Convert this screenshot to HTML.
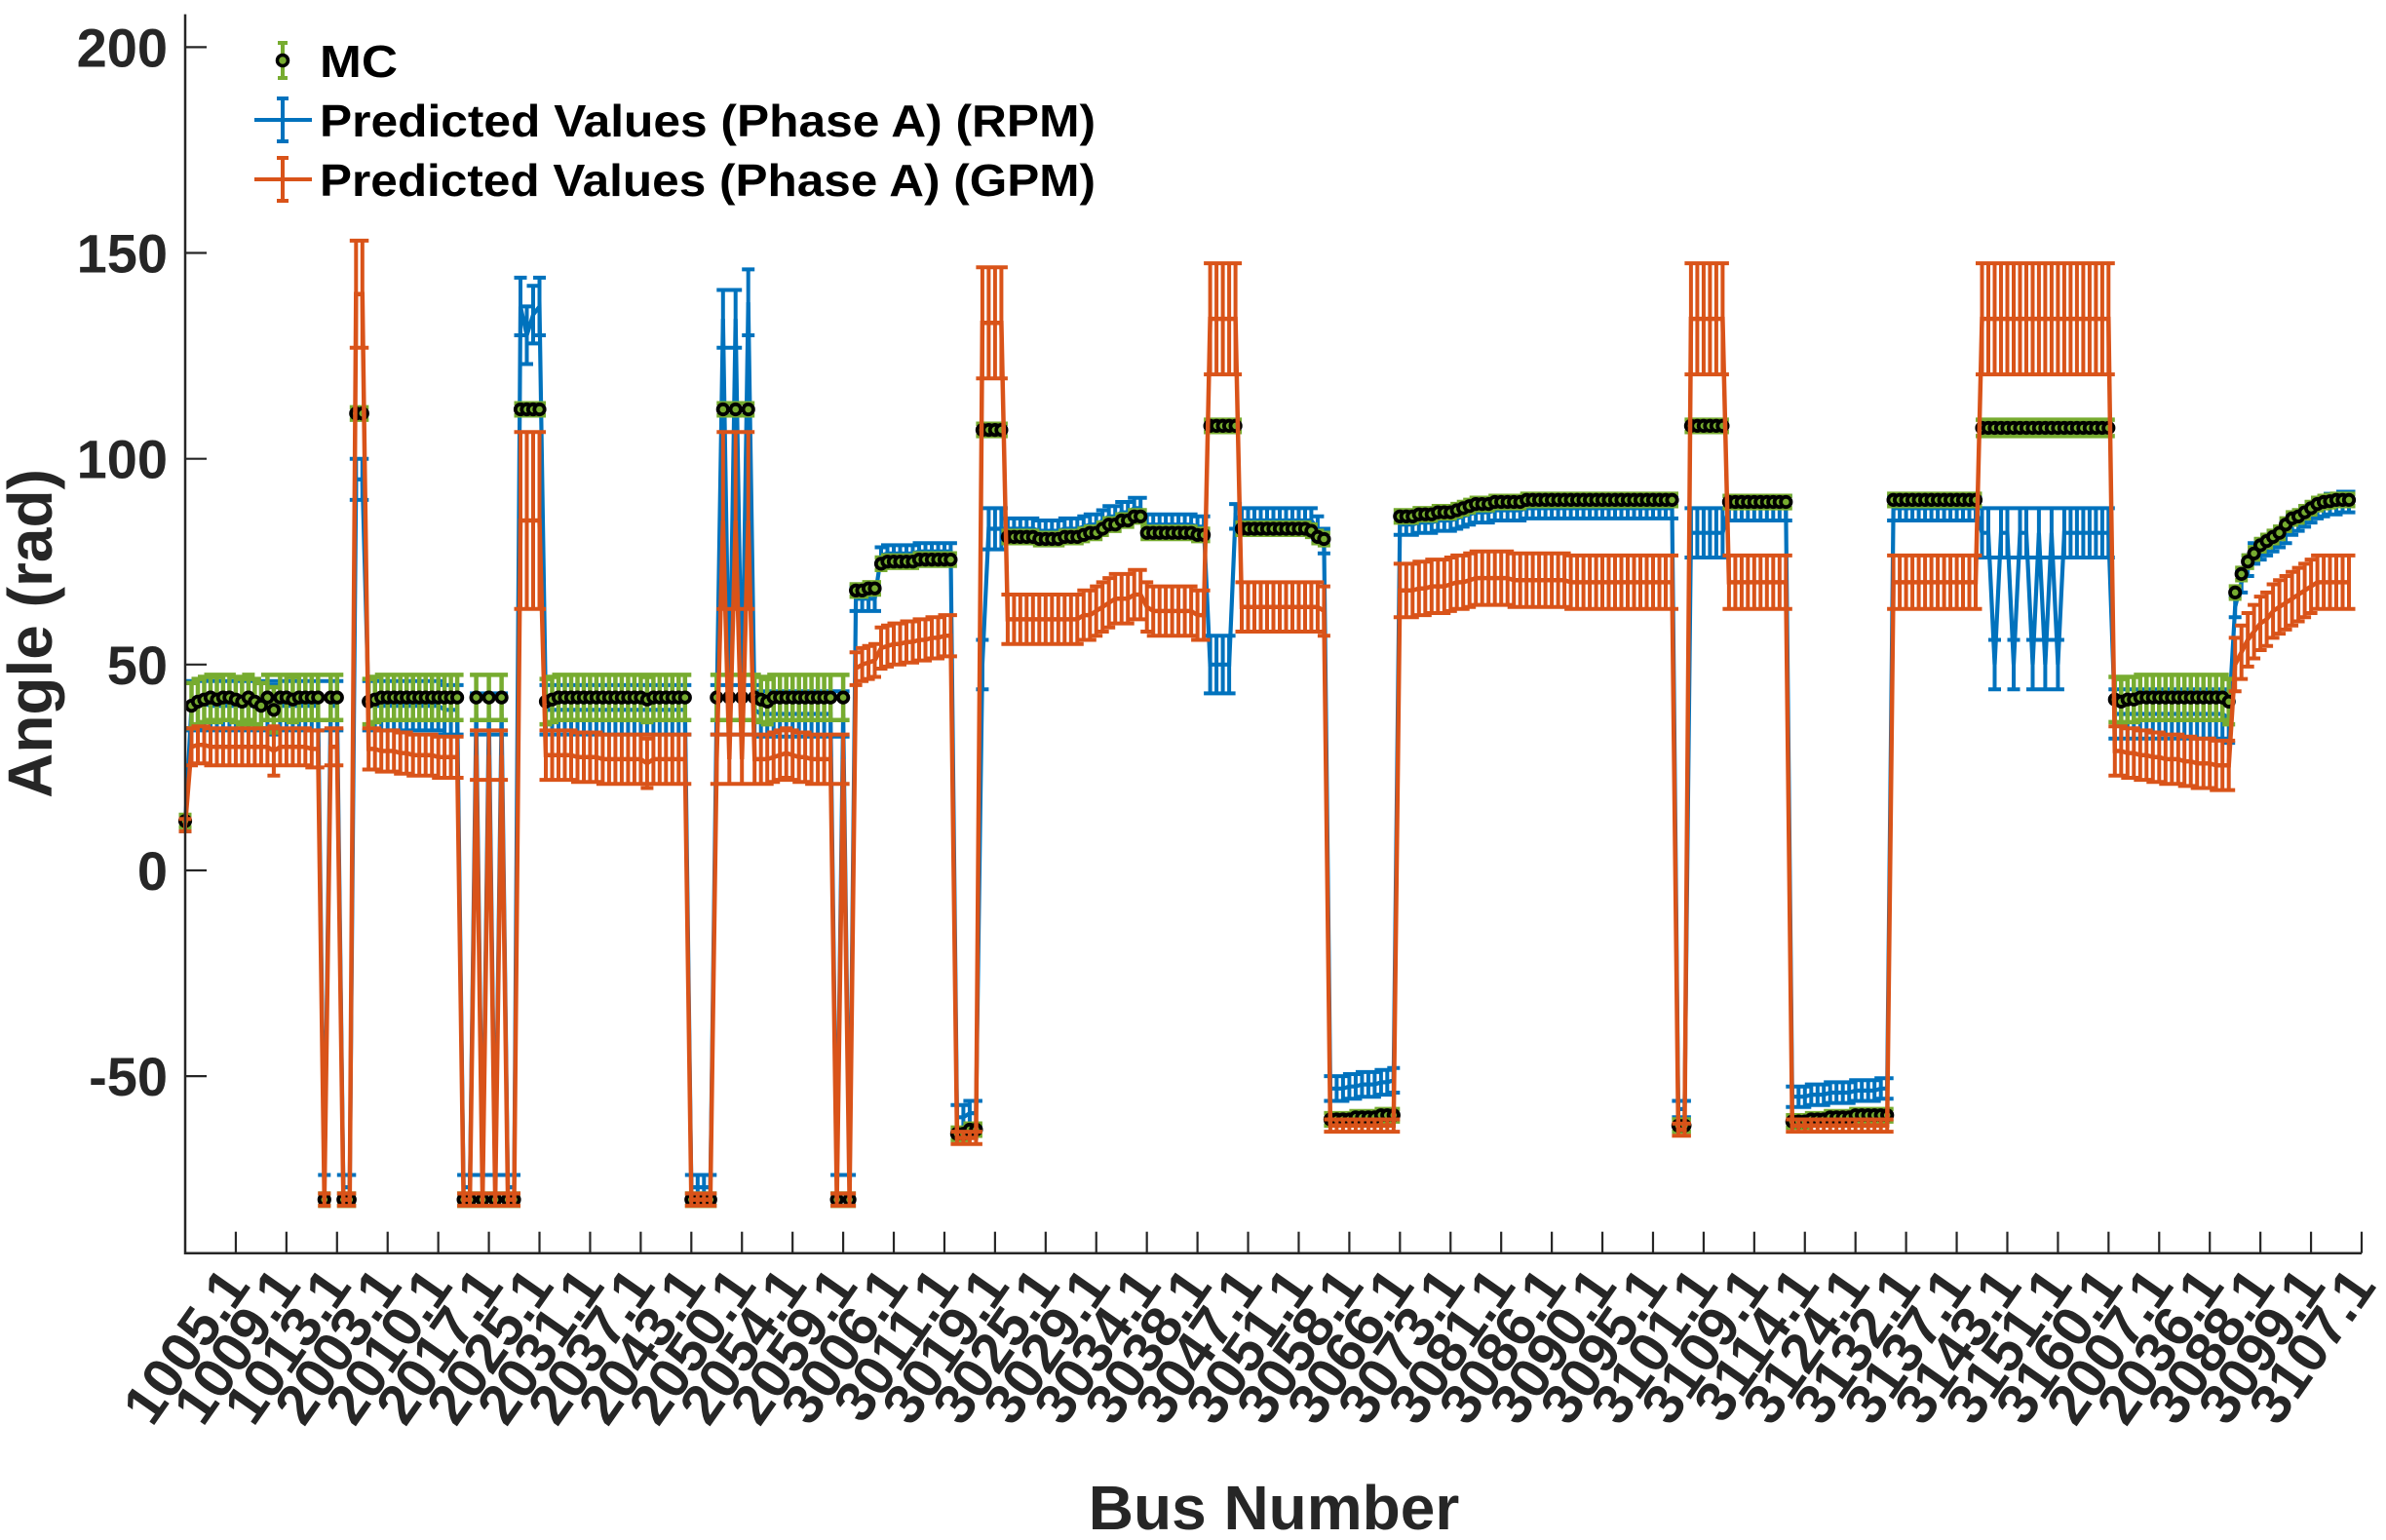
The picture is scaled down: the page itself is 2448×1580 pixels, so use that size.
<!DOCTYPE html>
<html><head><meta charset="utf-8"><title>Angle vs Bus Number</title>
<style>
html,body{margin:0;padding:0;background:#fff;}
svg{display:block;font-family:"Liberation Sans",Arial,sans-serif;}
</style></head>
<body>
<svg id="chart" xmlns="http://www.w3.org/2000/svg" width="2448" height="1580" viewBox="0 0 2448 1580">
<rect x="0" y="0" width="2448" height="1580" fill="#ffffff"/>
<g id="series-layer"></g>
<g id="axes-layer"></g>
<text x="31" y="650" transform="rotate(-90,31,650)" text-anchor="middle" dominant-baseline="central" font-size="64" font-weight="bold" fill="#262626">Angle (rad)</text>
<text x="1307" y="1569" text-anchor="middle" font-size="64" font-weight="bold" fill="#262626">Bus Number</text>
<g>
  <g>
    <path d="M290,44 V80 M285,44 H295 M285,80 H295" stroke="#77AC30" stroke-width="4" fill="none"/>
    <circle cx="290" cy="62" r="5.5" fill="#77AC30" stroke="#000" stroke-width="3.5"/>
    <text x="328" y="79" font-size="46" font-weight="bold" fill="#000" textLength="80" lengthAdjust="spacingAndGlyphs">MC</text>
  </g>
  <g>
    <path d="M261,123 H320 M290,101 V145 M284,101 H296 M284,145 H296" stroke="#0072BD" stroke-width="4" fill="none"/>
    <text x="328" y="140" font-size="46" font-weight="bold" fill="#000" textLength="796" lengthAdjust="spacingAndGlyphs">Predicted Values (Phase A) (RPM)</text>
  </g>
  <g>
    <path d="M261,184 H320 M290,162 V206 M284,162 H296 M284,206 H296" stroke="#D95319" stroke-width="4" fill="none"/>
    <text x="328" y="201" font-size="46" font-weight="bold" fill="#000" textLength="796" lengthAdjust="spacingAndGlyphs">Predicted Values (Phase A) (GPM)</text>
  </g>
</g>
</svg>
<script>
const tickLabels = ["1005.1","1009.1","1013.1","2003.1","2010.1","2017.1","2025.1","2031.1","2037.1","2043.1","2050.1","2054.1","2059.1","3006.1","3011.1","3019.1","3025.1","3029.1","3034.1","3038.1","3047.1","3051.1","3058.1","3066.1","3073.1","3081.1","3086.1","3090.1","3095.1","3101.1","3109.1","3114.1","3124.1","3132.1","3137.1","3143.1","3151.1","3160.1","2007.1","2036.1","3088.1","3099.1","3107.1"];
const yTicks = [-50,0,50,100,150,200];

const mcValues = [12,
40,41,41.5,42,41.5,42,42,41.5,41,42,41,40,42,39,42,42,41.5,42,42,42,42,
-80,
42,42,
-80,-80,
111,111,
41,41.5,42,42,42,42,42,42,42,42,42,42,42,42,42,
-80,-80,42,-80,42,-80,42,-80,-80,
112,112,112,112,
41,41.5,42,42,42,42,42,42,42,42,42,42,42,42,42,42,41.5,42,42,42,42,42,42,
-80,-80,-80,-80,
42,112,42,112,42,112,42,
41.5,41,42,42,42,42,42,42,42,42,42,42,
-80,42,-80,
68,68,68.5,68.5,
74.5,75,75,75,75,75,75.5,75.5,75.5,75.5,75.5,75.5,
-64,-64,-63,-63,
107,107,107,107,
81,81,81,81,81,80.5,80.5,80.5,80.5,81,81,81,81.5,82,82,83,84,84,85,85,86,86,82,82,82,82,82,82,82,82,81.5,81.5,
108,108,108,108,108,
83,83,83,83,83,83,83,83,83,83,83,82.5,81,80.5,
-60.5,-60.5,-60.5,-60.5,-60,-60,-60,-60,-59.5,-59.5,-59.5,
86,86,86,86.5,86.5,86.5,87,87,87,87.5,88,88.5,89,89,89,89.5,89.5,89.5,89.5,89.5,
90,90,90,90,90,90,90,90,90,90,90,90,90,90,90,90,90,90,90,90,90,90,90,90,
-62,-62,
108,108,108,108,108,108,
89.5,89.5,89.5,89.5,89.5,89.5,89.5,89.5,89.5,89.5,
-61,-61,-61,-60.5,-60.5,-60.5,-60,-60,-60,-60,-59.5,-59.5,-59.5,-59.5,-59.5,-59.5,
90,90,90,90,90,90,90,90,90,90,90,90,90,90,
107.5,107.5,107.5,107.5,107.5,107.5,107.5,107.5,107.5,107.5,107.5,107.5,107.5,107.5,107.5,107.5,107.5,107.5,107.5,107.5,107.5,
41.5,41,41.5,41.5,42,42,42,42,42,42,42,42,42,42,42,42,42,42,41,
67.5,72,75,77,79,80,81,82,84,85.5,86,87,88,89,89.5,89.7,90,90,90];

const mcErrors = [1.5,
5.5,5.5,5.5,5.5,5.5,5.5,5.5,5.5,5.5,5.5,5.5,5.5,5.5,5.5,5.5,5.5,5.5,5.5,5.5,5.5,5.5,
1.5,
5.5,5.5,
1.5,1.5,
1.5,1.5,
5.5,5.5,5.5,5.5,5.5,5.5,5.5,5.5,5.5,5.5,5.5,5.5,5.5,5.5,5.5,
1.5,1.5,5.5,1.5,5.5,1.5,5.5,1.5,1.5,
1.5,1.5,1.5,1.5,
5.5,5.5,5.5,5.5,5.5,5.5,5.5,5.5,5.5,5.5,5.5,5.5,5.5,5.5,5.5,5.5,5.5,5.5,5.5,5.5,5.5,5.5,5.5,
1.5,1.5,1.5,1.5,
5.5,1.5,5.5,1.5,5.5,1.5,5.5,
5.5,5.5,5.5,5.5,5.5,5.5,5.5,5.5,5.5,5.5,5.5,5.5,
1.5,5.5,1.5,
1.5,1.5,1.5,1.5,
1.5,1.5,1.5,1.5,1.5,1.5,1.5,1.5,1.5,1.5,1.5,1.5,
1.5,1.5,1.5,1.5,
1.5,1.5,1.5,1.5,
1.5,1.5,1.5,1.5,1.5,1.5,1.5,1.5,1.5,1.5,1.5,1.5,1.5,1.5,1.5,1.5,1.5,1.5,1.5,1.5,1.5,1.5,1.5,1.5,1.5,1.5,1.5,1.5,1.5,1.5,1.5,1.5,
1.5,1.5,1.5,1.5,1.5,
1.5,1.5,1.5,1.5,1.5,1.5,1.5,1.5,1.5,1.5,1.5,1.5,1.5,1.5,
1.5,1.5,1.5,1.5,1.5,1.5,1.5,1.5,1.5,1.5,1.5,
1.5,1.5,1.5,1.5,1.5,1.5,1.5,1.5,1.5,1.5,1.5,1.5,1.5,1.5,1.5,1.5,1.5,1.5,1.5,1.5,1.5,1.5,1.5,1.5,1.5,1.5,1.5,1.5,1.5,1.5,1.5,1.5,1.5,1.5,1.5,1.5,1.5,1.5,1.5,1.5,1.5,1.5,1.5,1.5,
1.5,1.5,
1.5,1.5,1.5,1.5,1.5,1.5,
1.5,1.5,1.5,1.5,1.5,1.5,1.5,1.5,1.5,1.5,
1.5,1.5,1.5,1.5,1.5,1.5,1.5,1.5,1.5,1.5,1.5,1.5,1.5,1.5,1.5,1.5,
1.5,1.5,1.5,1.5,1.5,1.5,1.5,1.5,1.5,1.5,1.5,1.5,1.5,1.5,
2,2,2,2,2,2,2,2,2,2,2,2,2,2,2,2,2,2,2,2,2,
5.5,5.5,5.5,5.5,5.5,5.5,5.5,5.5,5.5,5.5,5.5,5.5,5.5,5.5,5.5,5.5,5.5,5.5,5.5,
1.5,1.5,1.5,1.5,1.5,1.5,1.5,1.5,1.5,1.5,1.5,1.5,1.5,1.5,1.5,1.5,1.5,1.5,1.5];

const rpmValues = [11,
40,40,40.5,40,40,40,40,40,40,40,40,40,40,39,40,40,40,40,40,40,40,
-77,
40,40,
-77,-77,
95,95,
40,40,40,40,40,40,40,40,40,40,40,40,39,39,39,
-77,-77,38,-77,38,-77,38,-77,-77,
137,130,135,137,
39,39,39,39,39,39,39,39,39,39,39,39,39,39,39,39,39,39,39,39,39,39,39,
-77,-77,-77,-77,
39,134,39,134,39,138,39,
38,38,38,38,38,38,38,38,38,38,38,38,
-77,38,-77,
66,66,66,66,
76.5,77,77,77,77,77,77.5,77.5,77.5,77.5,77.5,77.5,
-60,-60,-59,-59,
50,83,83,83,
83,83,83,83,83,82.5,82.5,82.5,82.5,83,83,83,83.5,84,84,85,86,86,87,87,88,88,84,84,84,84,84,84,84,84,83.5,83.5,
50,50,50,50,86,
85,85,85,85,85,85,85,85,85,85,85,85,83,80,
-53,-53,-53,-52.5,-52.5,-52,-52,-52,-51.5,-51.5,-51,
84,84,84,84.5,84.5,84.5,85,85,85,85.5,86,86.5,87,87,87,87.5,87.5,87.5,87.5,87.5,
88,88,88,88,88,88,88,88,88,88,88,88,88,88,88,88,88,88,88,88,88,88,88,88,
-58,-58,
82,82,82,82,82,82,
88,88,88,88,88,88,88,88,88,88,
-55,-55,-55,-54.5,-54.5,-54.5,-54,-54,-54,-54,-53.5,-53.5,-53.5,-53.5,-53,-53,
88,88,88,88,88,88,88,88,88,88,88,88,88,88,
82,82,50,82,82,50,82,82,50,82,50,82,50,82,82,82,82,82,82,82,82,
38,38,38,38,38,38,38,38,38,38,38,38,38,38,38,38,38,38,37,
64,70,74,77,78,79,80,81,82,84,85,86,87,88,88.5,89,89,89.5,89.5];

const rpmErrors = [1.5,
6,6,6,6,6,6,6,6,6,6,6,6,6,6,6,6,6,6,6,6,6,
3,
6,6,
3,3,
5,5,
6,6,6,6,6,6,6,6,6,6,6,6,6,6,6,
3,3,5,3,5,3,5,3,3,
7,7,7,7,
6,6,6,6,6,6,6,6,6,6,6,6,6,6,6,6,6,6,6,6,6,6,6,
3,3,3,3,
6,7,6,7,6,8,6,
5.5,5.5,5.5,5.5,5.5,5.5,5.5,5.5,5.5,5.5,5.5,5.5,
3,5.5,3,
3,3,3,3,
2,2,2,2,2,2,2,2,2,2,2,2,
3,3,3,3,
6,5,5,5,
2.5,2.5,2.5,2.5,2.5,2.5,2.5,2.5,2.5,2.5,2.5,2.5,2.5,2.5,2.5,2.5,2.5,2.5,2.5,2.5,2.5,2.5,2.5,2.5,2.5,2.5,2.5,2.5,2.5,2.5,2.5,2.5,
7,7,7,7,3,
3,3,3,3,3,3,3,3,3,3,3,3,3,3,
3,3,3,3,3,3,3,3,3,3,3,
2.5,2.5,2.5,2.5,2.5,2.5,2.5,2.5,2.5,2.5,2.5,2.5,2.5,2.5,2.5,2.5,2.5,2.5,2.5,2.5,2.5,2.5,2.5,2.5,2.5,2.5,2.5,2.5,2.5,2.5,2.5,2.5,2.5,2.5,2.5,2.5,2.5,2.5,2.5,2.5,2.5,2.5,2.5,2.5,
2,2,
6,6,6,6,6,6,
3,3,3,3,3,3,3,3,3,3,
2.5,2.5,2.5,2.5,2.5,2.5,2.5,2.5,2.5,2.5,2.5,2.5,2.5,2.5,2.5,2.5,
3,3,3,3,3,3,3,3,3,3,3,3,3,3,
6,6,6,6,6,6,6,6,6,6,6,6,6,6,6,6,6,6,6,6,6,
6,6,6,6,6,6,6,6,6,6,6,6,6,6,6,6,6,6,6,
2.5,2.5,2.5,2.5,2.5,2.5,2.5,2.5,2.5,2.5,2.5,2.5,2.5,2.5,2.5,2.5,2.5,2.5,2.5];

const gpmValues = [11,
30,30.5,30.5,30,30,30,30,30,30,30,30,30,30,29,30,30,30,30,30,29.5,29.5,
-80,
30,30,
-80,-80,
140,140,
29.5,29.5,29,29,29,28.5,28.5,28,28,28,28,27.5,27.5,27.5,27.5,
-80,-80,28,-80,28,-80,28,-80,-80,
85,85,85,85,
28,28,28,28,28,27.5,27.5,27.5,27.5,27,27,27,27,27,27,27,26,27,27,27,27,27,27,
-80,-80,-80,-80,
27,85,27,85,27,85,27,
27,27,27.5,28,28.5,28,27.5,27.5,27,27,27,27,
-80,27,-80,
49,50,50.5,51,
54,54.5,55,55,55.5,55.5,56,56,56.5,56.5,57,57,
-65,-65,-65,-65,
133,133,133,133,
61,61,61,61,61,61,61,61,61,61,61,61,62,62,63,64,65,66,66,66,67,67,64,63,63,63,63,63,63,63,62,62,
134,134,134,134,134,
64,64,64,64,64,64,64,64,64,64,64,64,64,63,
-62,-62,-62,-62,-62,-62,-62,-62,-62,-62,-62,
68,68,68,68.5,68.5,69,69,69,69.5,70,70,70.5,71,71,71,71,71,71,70.5,70.5,70.5,70.5,70.5,70.5,70.5,70.5,70.5,
70,70,70,70,70,70,70,70,70,70,70,70,70,70,70,70,70,
-63,-63,
134,134,134,134,134,134,
70,70,70,70,70,70,70,70,70,70,
-62,-62,-62,-62,-62,-62,-62,-62,-62,-62,-62,-62,-62,-62,-62,-62,
70,70,70,70,70,70,70,70,70,70,70,70,70,70,
134,134,134,134,134,134,134,134,134,134,134,134,134,134,134,134,134,134,134,134,134,
29,29,28.5,28.5,28,28,27.5,27.5,27,27,27,26.5,26.5,26,26,26,25.5,25.5,25.5,
50,53,56,58,60,61,63,64,65,66,67,68,69,70,70,70,70,70,70];

const gpmErrors = [1.5,
4.5,4.5,4.5,4.5,4.5,4.5,4.5,4.5,4.5,4.5,4.5,4.5,4.5,6,4.5,4.5,4.5,4.5,4.5,4.5,4.5,
1.5,
4.5,4.5,
1.5,1.5,
13,13,
5,5,5,5,5,5,5,5,5,5,5,5,5,5,5,
1.5,1.5,6,1.5,6,1.5,6,1.5,1.5,
21.5,21.5,21.5,21.5,
6,6,6,6,6,6,6,6,6,6,6,6,6,6,6,6,6,6,6,6,6,6,6,
1.5,1.5,1.5,1.5,
6,21.5,6,21.5,6,21.5,6,
6,6,6,6,6,6,6,6,6,6,6,6,
1.5,6,1.5,
4,4,4,4,
5,5,5,5,5,5,5,5,5,5,5,5,
1.5,1.5,1.5,1.5,
13.5,13.5,13.5,13.5,
6,6,6,6,6,6,6,6,6,6,6,6,6,6,6,6,6,6,6,6,6,6,6,6,6,6,6,6,6,6,6,6,
13.5,13.5,13.5,13.5,13.5,
6,6,6,6,6,6,6,6,6,6,6,6,6,6,
1.5,1.5,1.5,1.5,1.5,1.5,1.5,1.5,1.5,1.5,1.5,
6.5,6.5,6.5,6.5,6.5,6.5,6.5,6.5,6.5,6.5,6.5,6.5,6.5,6.5,6.5,6.5,6.5,6.5,6.5,6.5,6.5,6.5,6.5,6.5,6.5,6.5,6.5,6.5,6.5,6.5,6.5,6.5,6.5,6.5,6.5,6.5,6.5,6.5,6.5,6.5,6.5,6.5,6.5,6.5,
1.5,1.5,
13.5,13.5,13.5,13.5,13.5,13.5,
6.5,6.5,6.5,6.5,6.5,6.5,6.5,6.5,6.5,6.5,
1.5,1.5,1.5,1.5,1.5,1.5,1.5,1.5,1.5,1.5,1.5,1.5,1.5,1.5,1.5,1.5,
6.5,6.5,6.5,6.5,6.5,6.5,6.5,6.5,6.5,6.5,6.5,6.5,6.5,6.5,
13.5,13.5,13.5,13.5,13.5,13.5,13.5,13.5,13.5,13.5,13.5,13.5,13.5,13.5,13.5,13.5,13.5,13.5,13.5,13.5,13.5,
6,6,6,6,6,6,6,6,6,6,6,6,6,6,6,6,6,6,6,
6.5,6.5,6.5,6.5,6.5,6.5,6.5,6.5,6.5,6.5,6.5,6.5,6.5,6.5,6.5,6.5,6.5,6.5,6.5];

(function(){
  const NS = "http://www.w3.org/2000/svg";
  const PL = 190, PR = 2423, PT = 14.6, PB = 1285.7;
  const YMIN = -93, YMAX = 208, XMAX = 344;
  const X = i => PL + (PR - PL) * i / XMAX;
  const Y = v => PB - (PB - PT) * (v - YMIN) / (YMAX - YMIN);
  const series = document.getElementById('series-layer');
  const axes = document.getElementById('axes-layer');
  const CAP = 6.5;

  function errPath(vals, errs) {
    let d = "";
    for (let i = 0; i < vals.length; i++) {
      const x = X(i), y1 = Y(vals[i] + errs[i]), y2 = Y(vals[i] - errs[i]);
      d += "M" + x.toFixed(1) + "," + y1.toFixed(1) + "V" + y2.toFixed(1) +
           "M" + (x - CAP).toFixed(1) + "," + y1.toFixed(1) + "H" + (x + CAP).toFixed(1) +
           "M" + (x - CAP).toFixed(1) + "," + y2.toFixed(1) + "H" + (x + CAP).toFixed(1);
    }
    return d;
  }
  function linePts(vals) {
    return vals.map((v, i) => X(i).toFixed(1) + "," + Y(v).toFixed(1)).join(" ");
  }

  const gR = document.createElementNS(NS, 'g');
  
  
  series.appendChild(gR);
  const rLine = document.createElementNS(NS, 'polyline');
  
  
  rLine.setAttribute('points', linePts(rpmValues));
  rLine.setAttribute('fill', 'none'); rLine.setAttribute('stroke', '#0072BD'); rLine.setAttribute('stroke-width', '4.2');
  gR.appendChild(rLine);
  const rErr = document.createElementNS(NS, 'path');
  
  
  rErr.setAttribute('d', errPath(rpmValues, rpmErrors));
  rErr.setAttribute('fill', 'none'); rErr.setAttribute('stroke', '#0072BD'); rErr.setAttribute('stroke-width', '4');
  gR.appendChild(rErr);

  const gM = document.createElementNS(NS, 'g');
  
  
  series.appendChild(gM);
  const mErr = document.createElementNS(NS, 'path');
  
  
  mErr.setAttribute('d', errPath(mcValues, mcErrors));
  mErr.setAttribute('fill', 'none'); mErr.setAttribute('stroke', '#77AC30'); mErr.setAttribute('stroke-width', '4.5');
  gM.appendChild(mErr);

  const gG = document.createElementNS(NS, 'g');
  
  
  series.appendChild(gG);
  const gLine = document.createElementNS(NS, 'polyline');
  
  
  gLine.setAttribute('points', linePts(gpmValues));
  gLine.setAttribute('fill', 'none'); gLine.setAttribute('stroke', '#D95319'); gLine.setAttribute('stroke-width', '4.5');
  gG.appendChild(gLine);
  const gErr = document.createElementNS(NS, 'path');
  
  
  gErr.setAttribute('d', errPath(gpmValues, gpmErrors));
  gErr.setAttribute('fill', 'none'); gErr.setAttribute('stroke', '#D95319'); gErr.setAttribute('stroke-width', '4');
  gG.appendChild(gErr);

  for (let i = 0; i < mcValues.length; i++) {
    const c = document.createElementNS(NS, 'circle');
    
    
    c.setAttribute('cx', X(i).toFixed(1));
    c.setAttribute('cy', Y(mcValues[i]).toFixed(1));
    c.setAttribute('r', '5.2');
    c.setAttribute('fill', '#77AC30');
    c.setAttribute('stroke', '#000');
    c.setAttribute('stroke-width', '3.8');
    gM.appendChild(c);
  }

  const ax = document.createElementNS(NS, 'path');
  
  
  ax.setAttribute('d', 'M' + PL + ',' + PT + 'V' + PB + 'H' + PR);
  ax.setAttribute('fill', 'none'); ax.setAttribute('stroke', '#262626'); ax.setAttribute('stroke-width', '2.5');
  axes.appendChild(ax);

  for (const t of yTicks) {
    const y = Y(t);
    const tk = document.createElementNS(NS, 'line');
    
    
    tk.setAttribute('x1', PL); tk.setAttribute('x2', PL + 22);
    tk.setAttribute('y1', y); tk.setAttribute('y2', y);
    tk.setAttribute('stroke', '#262626'); tk.setAttribute('stroke-width', '2.2');
    axes.appendChild(tk);
    const tx = document.createElementNS(NS, 'text');
    
    
    tx.setAttribute('x', 172); tx.setAttribute('y', y + 20);
    tx.setAttribute('text-anchor', 'end');
    tx.setAttribute('font-size', '56'); tx.setAttribute('font-weight', 'bold'); tx.setAttribute('fill', '#262626');
    tx.textContent = String(t);
    axes.appendChild(tx);
  }

  for (let k = 0; k < tickLabels.length; k++) {
    const x = X(8 * (k + 1));
    const tk = document.createElementNS(NS, 'line');
    
    
    tk.setAttribute('x1', x); tk.setAttribute('x2', x);
    tk.setAttribute('y1', PB); tk.setAttribute('y2', PB - 22);
    tk.setAttribute('stroke', '#262626'); tk.setAttribute('stroke-width', '2.2');
    axes.appendChild(tk);
    const tx = document.createElementNS(NS, 'text');
    
    
    const ax0 = x + 16, ay0 = PB + 34;
    tx.setAttribute('x', ax0.toFixed(1)); tx.setAttribute('y', ay0.toFixed(1));
    tx.setAttribute('text-anchor', 'end');
    tx.setAttribute('transform', 'rotate(-55,' + ax0.toFixed(1) + ',' + ay0.toFixed(1) + ')');
    tx.setAttribute('font-size', '58'); tx.setAttribute('font-weight', 'bold'); tx.setAttribute('fill', '#262626');
    tx.textContent = tickLabels[k];
    axes.appendChild(tx);
  }
})();
</script>
</body></html>
